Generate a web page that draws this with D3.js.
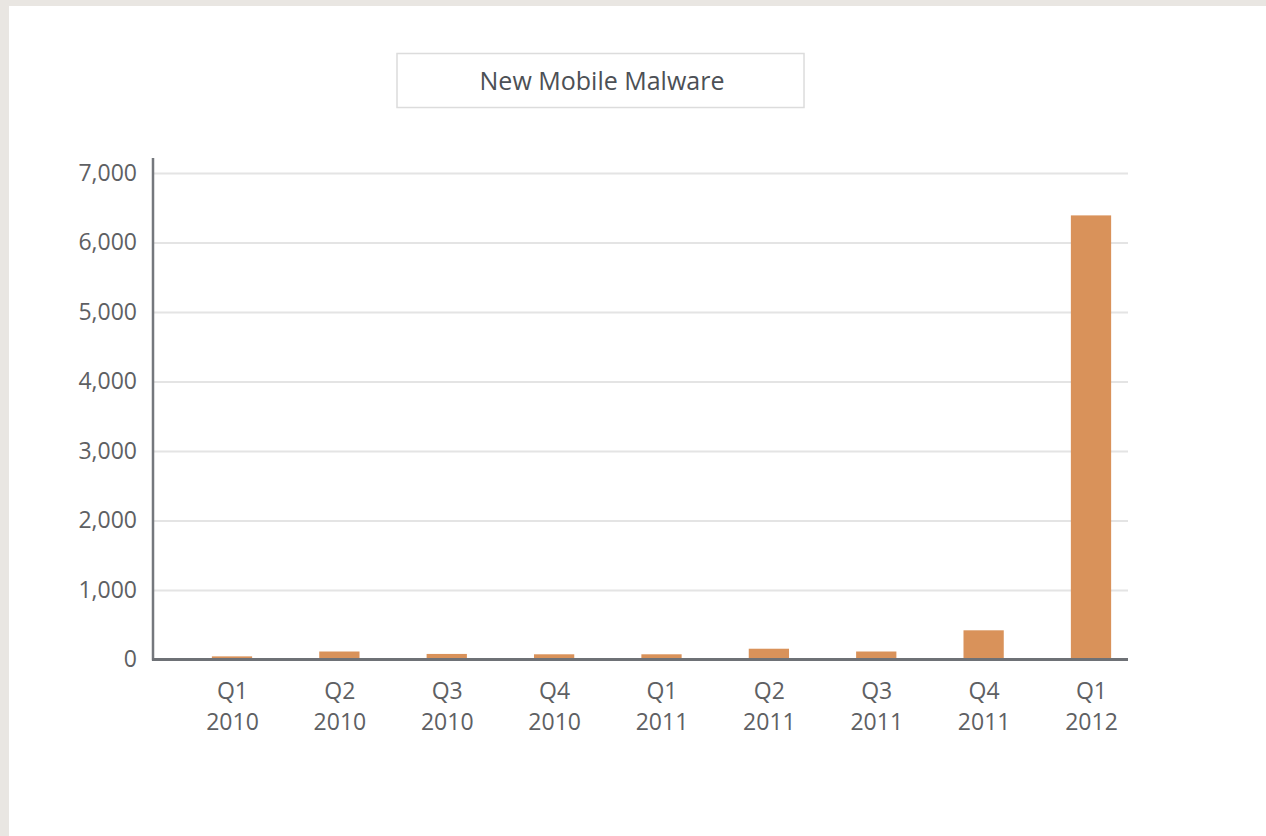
<!DOCTYPE html>
<html>
<head>
<meta charset="utf-8">
<script src="https://cdn.jsdelivr.net/npm/d3@7"></script>
<style>
	html, body { margin:0; padding:0; background:#e9e6e2; }
	svg { display:block; }
	.tick text { font-family:"Open Sans", sans-serif; fill:#5e6063; }
</style>
</head>
<body>
<svg id="chart" width="1266" height="836"></svg>
<script>
// Chart data
const title = 'New Mobile Malware';
const quarters = ['Q1','Q2','Q3','Q4','Q1','Q2','Q3','Q4','Q1'];
const years = ['2010','2010','2010','2010','2011','2011','2011','2011','2012'];
const malware = [45, 115, 80, 75, 75, 155, 115, 420, 6390];
const yTicks = [0, 1000, 2000, 3000, 4000, 5000, 6000, 7000];

const categories = quarters.map((q,i) => q + ' ' + years[i]);
const data = categories.map((c,i) => ({cat:c, q:quarters[i], y:years[i], value:malware[i]}));

const svg = d3.select('#chart');
const W = +svg.attr('width');
const H = +svg.attr('height');

// page background: white panel inside a grey frame
svg.append('rect').attr('x',0).attr('y',0).attr('width',W).attr('height',H).attr('fill','#e9e6e2');
svg.append('rect').attr('x',9).attr('y',6).attr('width',W-9).attr('height',H-6).attr('fill','#fff');

const plot = {left:153, right:1128, top:158, bottom:659.5};

const xScale = d3.scalePoint()
	.domain(categories)
	.range([232, 1091]);
const barWidth = xScale.step()*0.375;

const yScale = d3.scaleLinear()
	.domain([0, 7000])
	.range([plot.bottom, 173]);

// gridlines + y labels
const yAxis = d3.axisLeft(yScale)
	.tickValues(yTicks)
	.tickFormat(d3.format(','))
	.tickSize(-(plot.right-plot.left))
	.tickPadding(16);

const yAxisG = svg.append('g')
	.attr('transform',`translate(${plot.left},0)`)
	.call(yAxis);
yAxisG.select('.domain').remove();
yAxisG.selectAll('.tick line').attr('stroke','#e4e4e4').attr('stroke-width',2);
yAxisG.selectAll('.tick text').style('font-size','23px');

// bars
svg.append('g').selectAll('rect').data(data)
	.enter().append('rect')
	.attr('x', d => xScale(d.cat) - barWidth/2)
	.attr('y', d => yScale(d.value))
	.attr('width', barWidth)
	.attr('height', d => yScale(0) - yScale(d.value))
	.attr('fill', '#d9925a');

// x axis (labels in two lines)
const xAxis = d3.axisBottom(xScale).tickSize(0).tickPadding(0);
const xAxisG = svg.append('g')
	.attr('transform',`translate(0,${plot.bottom})`)
	.call(xAxis);
xAxisG.select('.domain').remove();
xAxisG.selectAll('.tick text').remove();
xAxisG.selectAll('.tick').append('text')
	.attr('text-anchor','middle')
	.style('font-size','23px')
	.each(function(d,i){
		const t = d3.select(this);
		t.append('tspan').attr('x',0).attr('y',39).text(quarters[i]);
		t.append('tspan').attr('x',0).attr('y',70).text(years[i]);
	});

// axis lines
svg.append('line')
	.attr('x1',plot.left).attr('x2',plot.left)
	.attr('y1',plot.top).attr('y2',plot.bottom+1)
	.attr('stroke','#75787d').attr('stroke-width',2.5);
svg.append('line')
	.attr('x1',plot.left-1).attr('x2',plot.right)
	.attr('y1',plot.bottom).attr('y2',plot.bottom)
	.attr('stroke','#6e7176').attr('stroke-width',3);

// title box
svg.append('rect')
	.attr('x',397).attr('y',53.5).attr('width',407).attr('height',54)
	.attr('fill','#fff').attr('stroke','#dcdcdc').attr('stroke-width',1.5);
svg.append('text')
	.attr('x',602).attr('y',89.5)
	.attr('text-anchor','middle')
	.style('font-family','"Open Sans", sans-serif')
	.style('font-size','25px')
	.attr('fill','#4c5055')
	.text(title);
</script>
</body>
</html>
